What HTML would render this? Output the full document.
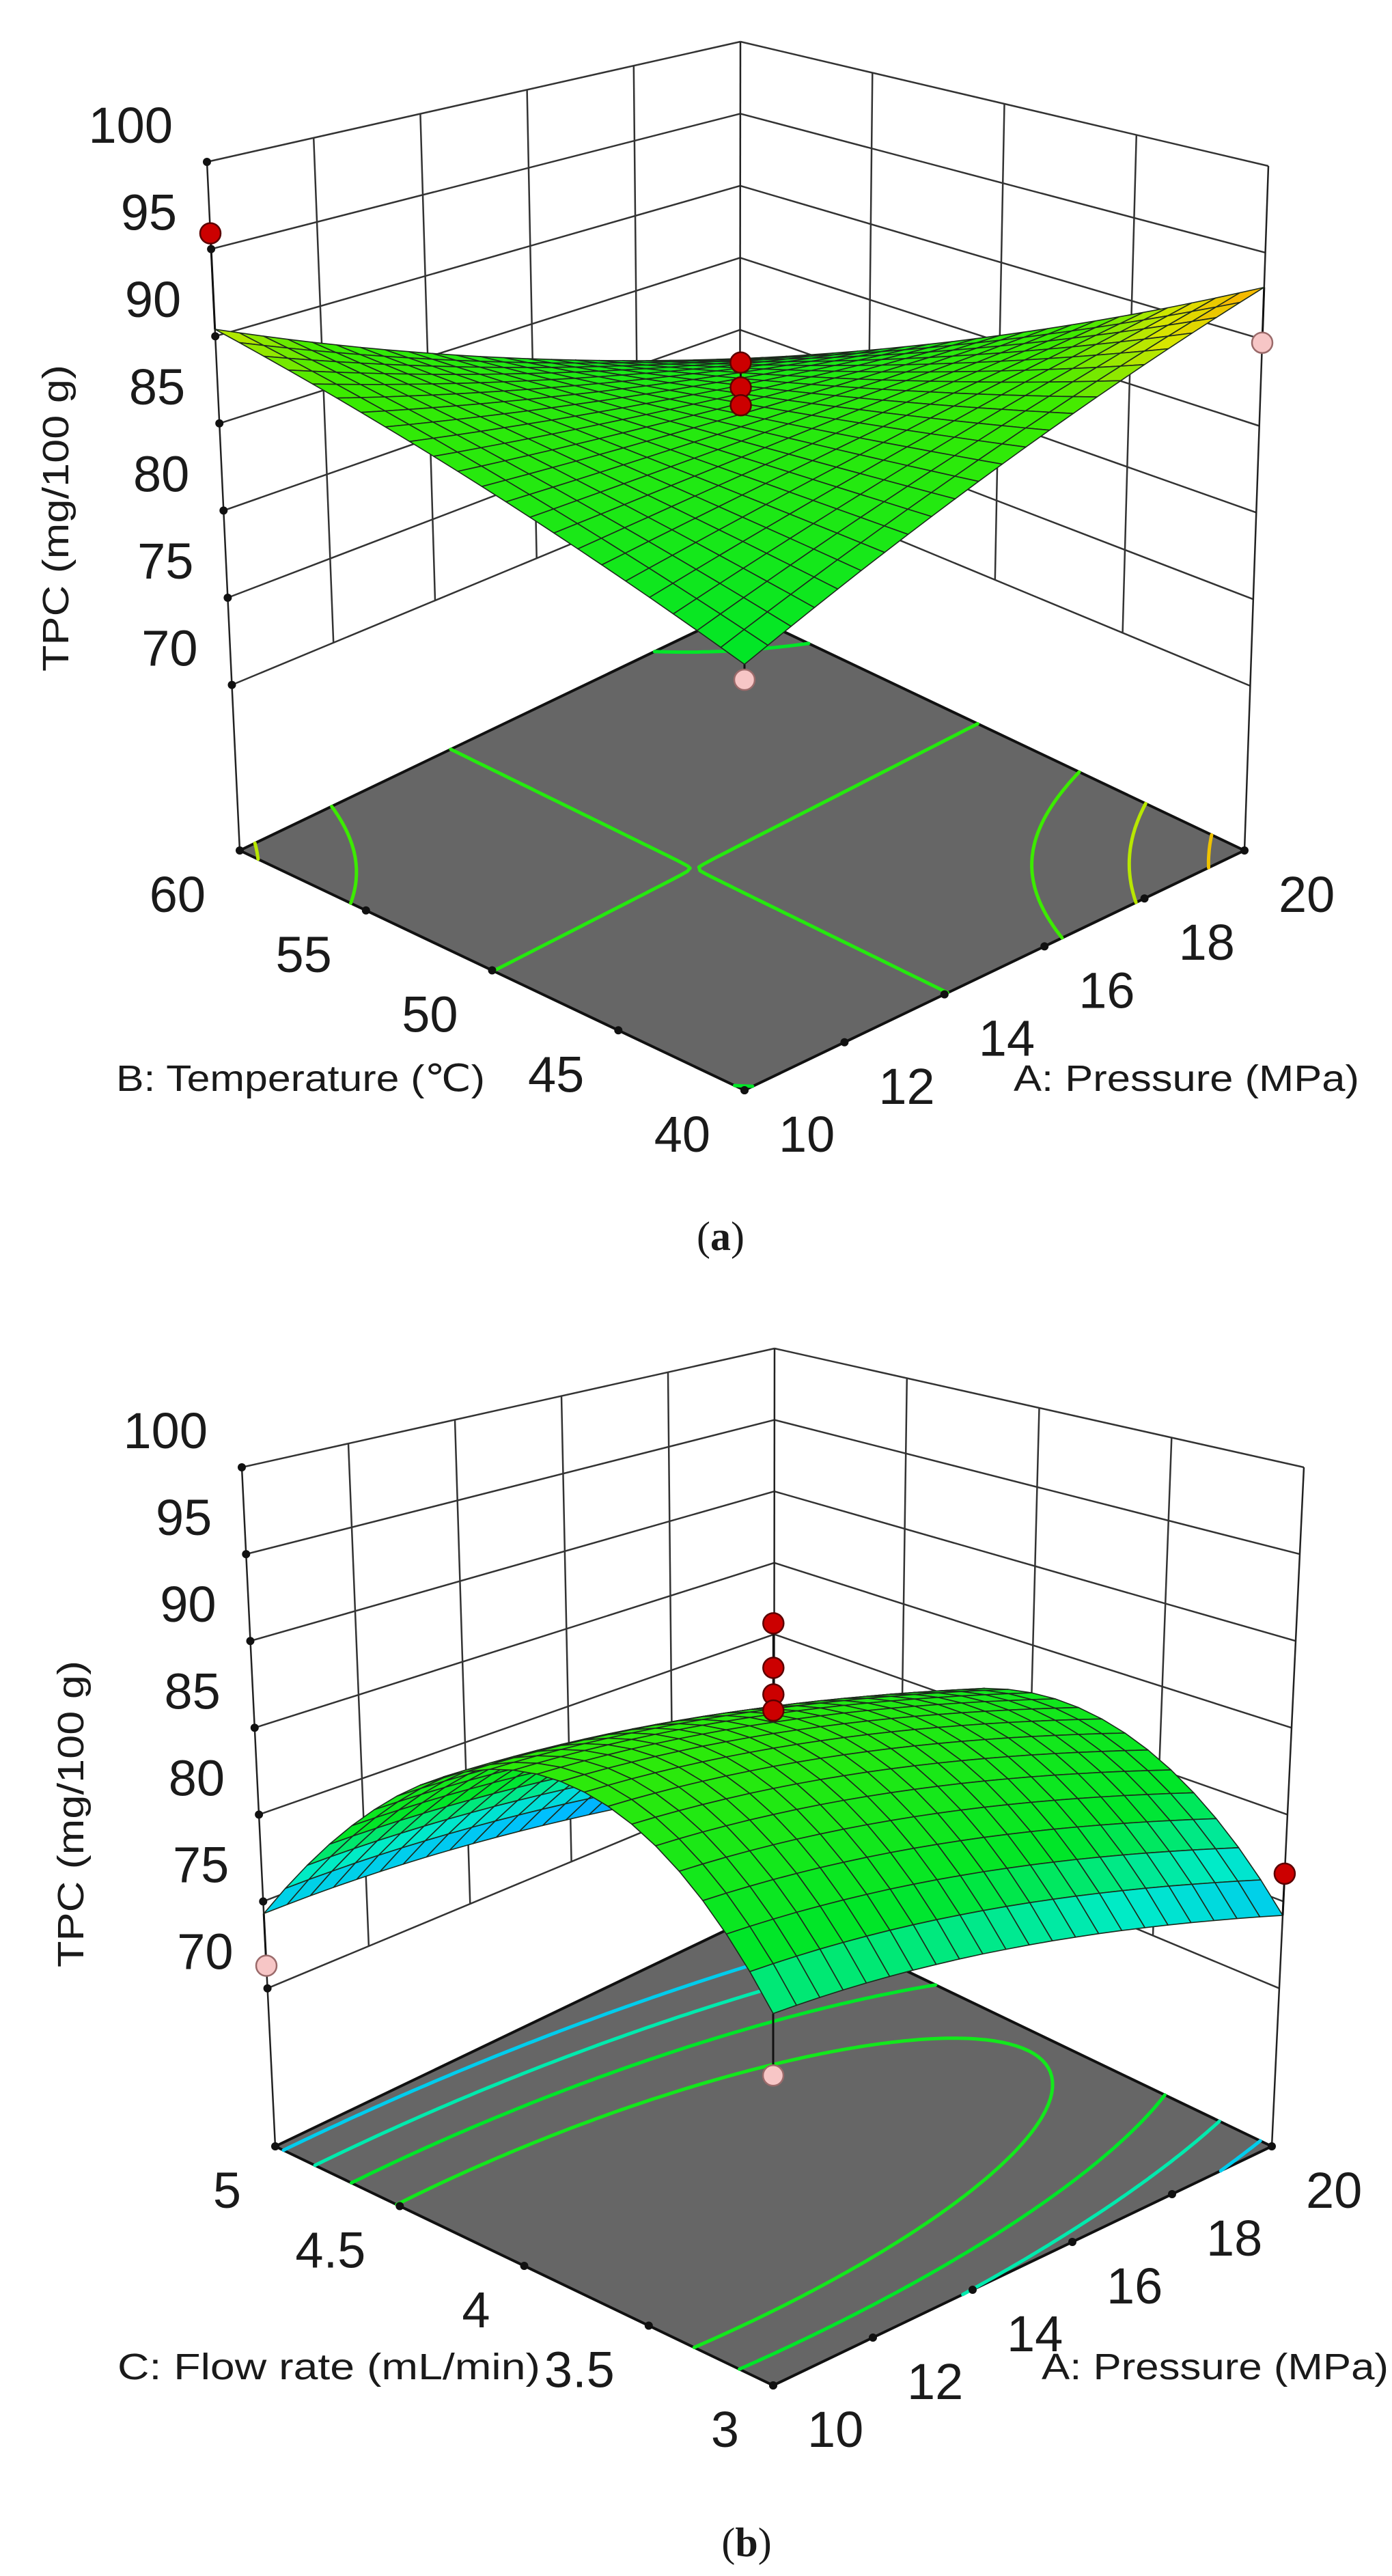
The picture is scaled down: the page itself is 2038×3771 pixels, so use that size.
<!DOCTYPE html>
<html><head><meta charset="utf-8">
<style>
html,body{margin:0;padding:0;background:#fff;}
svg{display:block;}
text{font-family:"Liberation Sans",sans-serif;fill:#1a1a1a;}
</style></head>
<body>
<svg id="fig" width="2038" height="3771" viewBox="0 0 2038 3771" xmlns="http://www.w3.org/2000/svg">
<rect x="0" y="0" width="2038" height="3771" fill="#fff"/>
<g id="pa"></g>
<g id="pb"></g>
<text x="1055" y="1830" text-anchor="middle" font-size="60" style="font-family:'Liberation Serif',serif">(<tspan font-weight="bold">a</tspan>)</text>
<text x="1093" y="3742" text-anchor="middle" font-size="60" style="font-family:'Liberation Serif',serif">(<tspan font-weight="bold">b</tspan>)</text>
</svg>
<script>
// ---- data ----
const zTicks = [70, 75, 80, 85, 90, 95, 100];
const aTicks = [10, 12, 14, 16, 18, 20];
const bTicks = [40, 45, 50, 55, 60];
const cTicks = [3, 3.5, 4, 4.5, 5];
const aTickLabels = ["10", "12", "14", "16", "18", "20"];
const bTickLabels = ["40", "45", "50", "55", "60"];
const cTickLabels = ["3", "3.5", "4", "4.5", "5"];
const zTickLabels = ["70", "75", "80", "85", "90", "95", "100"];
// model coefficients (coded): intercept, A, second factor, interaction, A^2, second^2
const coefA = [85, 0.2, -1.1, -6.4, 0.2, 0.1];
const coefB = [85.2, -2, -1.95, -0.25, -1.2, -10];
const levelsA = [80, 84.972, 88, 90, 92];
const levelsB = [75, 77.5, 80, 82.5];
const ptsA_A = [10, 20, 10, 15, 15, 15];
const ptsA_B = [60, 40, 40, 50, 50, 50];
const ptsA_z = [95.9, 89.8, 79.1, 87.9, 86.5, 85.5];
const ptsB_A = [10, 20, 10, 15, 15, 15, 15];
const ptsB_C = [5, 3, 3, 4, 4, 4, 4];
const ptsB_z = [71.3, 76.6, 74.9, 90.3, 87.8, 86.3, 85.4];

const NS = "http://www.w3.org/2000/svg";
function mk(parent, tag, attrs) {
  const el = document.createElementNS(NS, tag);
  for (const k in attrs) el.setAttribute(k, attrs[k]);
  parent.appendChild(el);
  return el;
}
const stops = [[70,[0,80,255]],[74,[0,190,255]],[77,[0,235,200]],[80,[0,230,40]],[88,[60,235,0]],[90.5,[215,230,0]],[93,[255,170,0]],[95,[255,100,0]]];
function cmap(z) {
  if (z <= stops[0][0]) return "rgb(" + stops[0][1].join(",") + ")";
  for (let i = 1; i < stops.length; i++) {
    if (z <= stops[i][0]) {
      const f = (z - stops[i-1][0]) / (stops[i][0] - stops[i-1][0]);
      const a = stops[i-1][1], b = stops[i][1];
      return "rgb(" + [0,1,2].map(k => Math.round(a[k] + (b[k]-a[k])*f)).join(",") + ")";
    }
  }
  return "rgb(" + stops[stops.length-1][1].join(",") + ")";
}
function bil(F, R, L, B, s, t) {
  return [F[0]*(1-s)*(1-t) + R[0]*s*(1-t) + L[0]*(1-s)*t + B[0]*s*t,
          F[1]*(1-s)*(1-t) + R[1]*s*(1-t) + L[1]*(1-s)*t + B[1]*s*t];
}
function drawPanel(g, cfg) {
  const P = (s, t, z) => {
    const p0 = bil(cfg.F0, cfg.R0, cfg.L0, cfg.B0, s, t);
    const p1 = bil(cfg.F1, cfg.R1, cfg.L1, cfg.B1, s, t);
    const f = (z - cfg.z0) / (100 - cfg.z0);
    return [p0[0] + (p1[0]-p0[0])*f, p0[1] + (p1[1]-p0[1])*f];
  };
  const c = cfg.coef;
  const model = (s, t) => { const x = 2*s-1, y = 2*t-1; return c[0] + c[1]*x + c[2]*y + c[3]*x*y + c[4]*x*x + c[5]*y*y; };
  const sOf = a => (a - cfg.aMin) / (cfg.aMax - cfg.aMin);
  const tOf = b => (b - cfg.bMin) / (cfg.bMax - cfg.bMin);
  const zMin = zTicks[0], zMax = zTicks[zTicks.length-1];
  const line = (p, q, w, col, name) => {
    const el = mk(g, "line", {x1:p[0].toFixed(1), y1:p[1].toFixed(1), x2:q[0].toFixed(1), y2:q[1].toFixed(1), stroke:col, "stroke-width":w});
    
    
    return el;
  };
  for (const z of zTicks) {
    line(P(0,1,z), P(1,1,z), 2.5, "#333", "left-wall-gridline");
    line(P(1,1,z), P(1,0,z), 2.5, "#333", "right-wall-gridline");
  }
  for (const a of aTicks) {
    const s = sOf(a);
    if (s > 0.001 && s < 0.999) line(P(s,1,zMin), P(s,1,zMax), 2.5, "#333", "left-wall-vertical-gridline");
  }
  for (const b of cfg.bTicks) {
    const t = tOf(b);
    if (t > 0.001 && t < 0.999) line(P(1,t,zMin), P(1,t,zMax), 2.5, "#333", "right-wall-vertical-gridline");
  }
  line(P(0,1,cfg.z0), P(0,1,100), 2.5, "#222", "z-axis-line");
  line(P(1,1,cfg.z0), P(1,1,100), 2.5, "#222", "back-corner-line");
  line(P(1,0,cfg.z0), P(1,0,100), 2.5, "#222", "right-corner-line");
  const fp = [P(0,0,cfg.z0), P(1,0,cfg.z0), P(1,1,cfg.z0), P(0,1,cfg.z0)];
  const floor = mk(g, "polygon", {points: fp.map(p => p[0].toFixed(1)+","+p[1].toFixed(1)).join(" "), fill:"#666", stroke:"#111", "stroke-width":4, "stroke-linejoin":"round"});
  
  
  const M = 90;
  for (const lev of cfg.levels) {
    let d = "";
    for (let i = 0; i < M; i++) for (let j = 0; j < M; j++) {
      const s0 = i/M, s1 = (i+1)/M, t0 = j/M, t1 = (j+1)/M;
      const v = [model(s0,t0), model(s1,t0), model(s1,t1), model(s0,t1)];
      const cs = [[s0,t0],[s1,t0],[s1,t1],[s0,t1]];
      const pts = [];
      for (let k = 0; k < 4; k++) {
        const k2 = (k+1)%4;
        const va = v[k]-lev, vb = v[k2]-lev;
        if ((va < 0) !== (vb < 0)) {
          const f = va / (va - vb);
          pts.push([cs[k][0] + (cs[k2][0]-cs[k][0])*f, cs[k][1] + (cs[k2][1]-cs[k][1])*f]);
        }
      }
      for (let k = 0; k + 1 < pts.length; k += 2) {
        const p = P(pts[k][0], pts[k][1], cfg.z0), q = P(pts[k+1][0], pts[k+1][1], cfg.z0);
        d += "M" + p[0].toFixed(1) + " " + p[1].toFixed(1) + "L" + q[0].toFixed(1) + " " + q[1].toFixed(1);
      }
    }
    const path = mk(g, "path", {d: d, stroke: cmap(lev), "stroke-width": 5, fill: "none", "stroke-linecap": "round"});
    
    
  }
  for (const z of zTicks) {
    const p = P(0,1,z);
    const dot = mk(g, "circle", {cx:p[0].toFixed(1), cy:p[1].toFixed(1), r:6, fill:"#111"});
    
    
    const tx = mk(g, "text", {x:(p[0]-50).toFixed(1), y:(p[1]-55+27).toFixed(1), "text-anchor":"end", "font-size":74});
    tx.textContent = zTickLabels[zTicks.indexOf(z)];
    
    
  }
  cfg.bTicks.forEach((b, i) => {
    const p = P(0, tOf(b), cfg.z0);
    const dot = mk(g, "circle", {cx:p[0].toFixed(1), cy:p[1].toFixed(1), r:6, fill:"#111"});
    
    
    const tx = mk(g, "text", {x:(p[0]-50).toFixed(1), y:(p[1]+63+27).toFixed(1), "text-anchor":"end", "font-size":74});
    tx.textContent = cfg.bLabels[i];
    
    
  });
  aTicks.forEach((a, i) => {
    const p = P(sOf(a), 0, cfg.z0);
    const dot = mk(g, "circle", {cx:p[0].toFixed(1), cy:p[1].toFixed(1), r:6, fill:"#111"});
    
    
    const tx = mk(g, "text", {x:(p[0]+50).toFixed(1), y:(p[1]+63+27).toFixed(1), "text-anchor":"start", "font-size":74});
    tx.textContent = aTickLabels[i];
    
    
  });
  const drawPt = (i, above) => {
    const s = sOf(cfg.pA[i]), t = tOf(cfg.pB[i]), z = cfg.pZ[i];
    const zs = model(s, t);
    if ((z >= zs) !== above) return;
    const p = P(s, t, z), q = P(s, t, zs);
    line(p, q, 3, "#111", "residual-stem");
    const cc = mk(g, "circle", {cx:p[0].toFixed(1), cy:p[1].toFixed(1), r:15, fill: above ? "#cc0000" : "#f7c6c6", stroke: above ? "#5a0000" : "#9a6a6a", "stroke-width":2.5});
    
    
  };
  for (let i = 0; i < cfg.pZ.length; i++) drawPt(i, false);
  const N = 22;
  const cells = [];
  for (let i = 0; i < N; i++) for (let j = 0; j < N; j++) cells.push([i, j]);
  cells.sort((u, w) => (w[0] + w[1]) - (u[0] + u[1]));
  for (const [i, j] of cells) {
    const s0 = i/N, s1 = (i+1)/N, t0 = j/N, t1 = (j+1)/N;
    const cn = [[s0,t0],[s1,t0],[s1,t1],[s0,t1]];
    const pts = cn.map(q => P(q[0], q[1], model(q[0], q[1])));
    const zc = model((s0+s1)/2, (t0+t1)/2);
    const poly = mk(g, "polygon", {points: pts.map(p => p[0].toFixed(1)+","+p[1].toFixed(1)).join(" "), fill: cmap(zc), stroke:"#1c2a1c", "stroke-width":1.6, "stroke-linejoin":"round"});
    
    
  }
  for (let i = 0; i < cfg.pZ.length; i++) drawPt(i, true);
}

drawPanel(document.getElementById("pa"), {
  F0:[1090,1596], R0:[1822,1245], L0:[351,1245], B0:[1083,894],
  F1:[1090,320], R1:[1857,243], L1:[303,237], B1:[1084,61],
  z0:60.5, coef:coefA, levels:levelsA,
  aMin:10, aMax:20, bMin:40, bMax:60, bTicks:bTicks, bLabels:bTickLabels,
  pA:ptsA_A, pB:ptsA_B, pZ:ptsA_z
});
drawPanel(document.getElementById("pb"), {
  F0:[1132,3492], R0:[1862,3142], L0:[403,3142], B0:[1133,2792],
  F1:[1132,2225], R1:[1909,2148], L1:[354,2148], B1:[1134,1974],
  z0:60.9, coef:coefB, levels:levelsB,
  aMin:10, aMax:20, bMin:3, bMax:5, bTicks:cTicks, bLabels:cTickLabels,
  pA:ptsB_A, pB:ptsB_C, pZ:ptsB_z
});

const svg = document.getElementById("fig");
function title(txt, x, y, len, rot, name) {
  const t = mk(svg, "text", {x:x, y:y, "font-size":54, textLength:len, lengthAdjust:"spacingAndGlyphs", fill:"#333"});
  if (rot) t.setAttribute("transform", rot);
  t.textContent = txt;
  
  
}
title("TPC (mg/100 g)", 0, 0, 449, "translate(100,983) rotate(-90)", "a-z-axis-title");
title("B: Temperature (\u2103)", 170, 1597, 540, null, "a-temperature-axis-title");
title("A: Pressure (MPa)", 1484, 1597, 506, null, "a-pressure-axis-title");
title("TPC (mg/100 g)", 0, 0, 449, "translate(122,2880) rotate(-90)", "b-z-axis-title");
title("C: Flow rate (mL/min)", 172, 3483, 619, null, "b-flow-rate-axis-title");
title("A: Pressure (MPa)", 1525, 3483, 508, null, "b-pressure-axis-title");
</script>
</body></html>
